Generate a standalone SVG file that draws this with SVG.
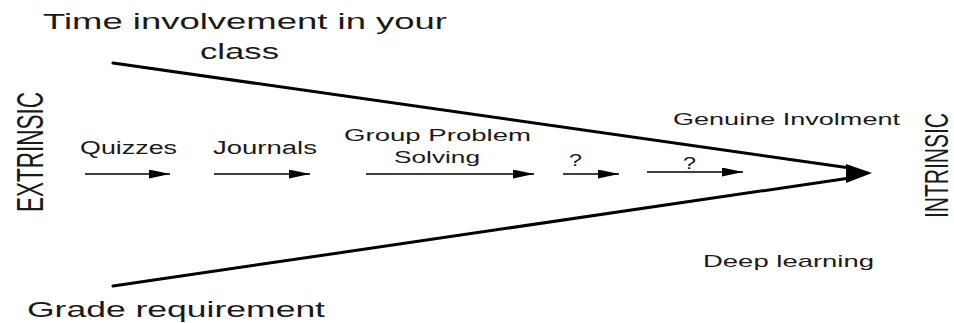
<svg xmlns="http://www.w3.org/2000/svg" width="954" height="323" viewBox="0 0 954 323">
  <style>
    text { font-family: "Liberation Sans", Arial, sans-serif; fill: #1a1a1a; }
    .big { font-size: 22px; }
    .mid { font-size: 18px; }
    .sm { font-size: 17px; }
    .side { font-size: 22px; }
    .edge { stroke: #000; stroke-width: 1.4; fill: none; }
    .main { stroke: #000; stroke-width: 3; fill: none; stroke-linecap: round; }
  </style>
  <defs>
    <marker id="ah" markerUnits="userSpaceOnUse" markerWidth="22" markerHeight="10" refX="21" refY="4.5" orient="auto">
      <path d="M0,0 L21,4.5 L0,9 z" fill="#000"/>
    </marker>
  </defs>
  <rect width="954" height="323" fill="#fff"/>

  <g id="connectors">
    <line class="main" x1="113" y1="63" x2="850" y2="168"/>
    <line class="main" x1="113" y1="286" x2="850" y2="178"/>
    <polygon points="846,164 872,173 846,183" fill="#000"/>
    <line class="edge" x1="85" y1="174" x2="170" y2="174" marker-end="url(#ah)"/>
    <line class="edge" x1="214" y1="174" x2="310" y2="174" marker-end="url(#ah)"/>
    <line class="edge" x1="366" y1="174" x2="534" y2="174" marker-end="url(#ah)"/>
    <line class="edge" x1="563" y1="174" x2="619" y2="174" marker-end="url(#ah)"/>
    <line class="edge" x1="647" y1="172" x2="743" y2="172" marker-end="url(#ah)"/>
  </g>

  <g id="time-involvement">
    <text class="big" x="43" y="29" textLength="404" lengthAdjust="spacingAndGlyphs">Time involvement in your</text>
    <text class="big" x="200" y="59" textLength="79" lengthAdjust="spacingAndGlyphs">class</text>
  </g>
  <g id="grade-requirement">
    <text class="big" x="27" y="317" textLength="298" lengthAdjust="spacingAndGlyphs">Grade requirement</text>
  </g>
  <g id="extrinsic">
    <text class="side" transform="translate(43,212) rotate(-90) scale(1,1.7)" textLength="120" lengthAdjust="spacingAndGlyphs">EXTRINSIC</text>
  </g>
  <g id="intrinsic">
    <text class="side" transform="translate(948,218) rotate(-90) scale(1,1.55)" textLength="105" lengthAdjust="spacingAndGlyphs">INTRINSIC</text>
  </g>
  <g id="quizzes">
    <text class="mid" x="80" y="154" textLength="97" lengthAdjust="spacingAndGlyphs">Quizzes</text>
  </g>
  <g id="journals">
    <text class="mid" x="213" y="154" textLength="104" lengthAdjust="spacingAndGlyphs">Journals</text>
  </g>
  <g id="group-problem-solving">
    <text class="sm" x="344" y="141" textLength="187" lengthAdjust="spacingAndGlyphs">Group Problem</text>
    <text class="sm" x="394" y="163" textLength="86" lengthAdjust="spacingAndGlyphs">Solving</text>
  </g>
  <g id="unknown-1">
    <text class="sm" x="569" y="166" textLength="13" lengthAdjust="spacingAndGlyphs">?</text>
  </g>
  <g id="unknown-2">
    <text class="sm" x="683" y="169" textLength="13" lengthAdjust="spacingAndGlyphs">?</text>
  </g>
  <g id="genuine-involment">
    <text class="sm" x="673" y="125" textLength="227" lengthAdjust="spacingAndGlyphs">Genuine Involment</text>
  </g>
  <g id="deep-learning">
    <text class="sm" x="703" y="267" textLength="171" lengthAdjust="spacingAndGlyphs">Deep learning</text>
  </g>
</svg>
